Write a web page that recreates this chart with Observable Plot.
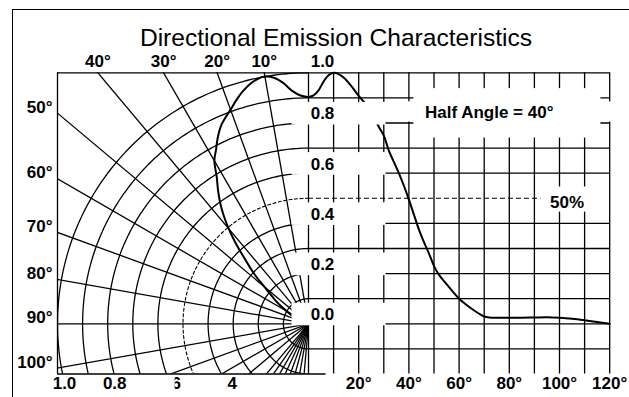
<!DOCTYPE html>
<html>
<head>
<meta charset="utf-8">
<script src="https://cdn.jsdelivr.net/npm/d3@7"></script>
<script src="https://cdn.jsdelivr.net/npm/@observablehq/plot@0.6"></script>
<style>
html, body { margin: 0; padding: 0; background: #fff; }
#wrap { position: relative; width: 629px; height: 397px; overflow: hidden; }
#border { position: absolute; left: 12px; top: 8.5px; right: -6px; bottom: -6px;
  border-left: 1.6px solid #000; border-top: 1.6px solid #000; pointer-events: none; }
svg { display: block; }
</style>
</head>
<body>
<div id="wrap"><div id="border"></div></div>
<script>
// ---------- data ----------
const title = "Directional Emission Characteristics";
// emission angle (deg) and relative intensity
const angleDeg  = [0, 2, 4, 6, 8, 10, 12, 14, 16, 18, 20, 22, 24, 26, 28, 30, 32, 34, 36, 38, 40,
                   42, 44, 46, 48, 50, 52, 55, 58, 60, 63, 66, 68, 70, 72, 75, 80, 85, 90, 95, 100,
                   105, 110, 115, 120];
const intensity = [0.903, 0.91, 0.93, 0.965, 0.99, 1.0, 0.995, 0.981, 0.96, 0.935, 0.908, 0.885,
                   0.86, 0.825, 0.785, 0.75, 0.69, 0.645, 0.60, 0.55, 0.495, 0.435, 0.375, 0.325,
                   0.28, 0.23, 0.195, 0.158, 0.122, 0.10, 0.075, 0.053, 0.04, 0.029, 0.025, 0.024,
                   0.024, 0.024, 0.025, 0.026, 0.024, 0.02, 0.014, 0.007, 0.0];
const circleRadii   = [0.1, 0.2, 0.3, 0.4, 0.6, 0.7, 0.8, 0.9, 1.0];
const dashedRadius  = 0.5;
const radialAngles  = [10, 20, 30, 40, 50, 60, 70, 80, 90, 100, 110, 120, 130, 140,
                       145, 150, 155, 160, 165, 170, 175];
const gridDegrees   = [0, 10, 20, 30, 40, 50, 60, 70, 80, 90, 100, 110, 120];
const gridLevels    = [-0.1, 0.0, 0.1, 0.2, 0.3, 0.4, 0.6, 0.7, 0.8, 0.9];
const halfLevel     = 0.5;
const topAngleLabels  = [40, 30, 20, 10];
const leftAngleLabels = [50, 60, 70, 80, 90, 100];
const levelLabels     = [1.0, 0.8, 0.6, 0.4, 0.2, 0.0];
const radiusLabels    = [1.0, 0.8, 0.6, 0.4];
const degreeLabels    = [20, 40, 60, 80, 100, 120];
const halfAngleText   = "Half Angle = 40°";
const halfText        = "50%";

// ---------- layout ----------
const PX = 251;                 // pixels per unit (0.1 intensity == 10 degrees)
const px = p => p / PX;
const rad = d => d * Math.PI / 180;
const xMin = -1, xMax = 1.2, yMin = -0.2, yMax = 1.0;
const mL = 57, mT = 72.3;
const W = 629, H = 397;
const mR = W - mL - (xMax - xMin) * PX;
const mB = H - mT - (yMax - yMin) * PX;

const font = "'Liberation Sans', Arial, Helvetica, sans-serif";
const lw = 1.3;

// polar circles
const circlePts = [];
for (const r of circleRadii.concat([dashedRadius])) {
  for (let a = 0; a <= 180; a += 1) {
    circlePts.push({r, x: -r * Math.sin(rad(a)), y: r * Math.cos(rad(a))});
  }
}
const solidCircles = circlePts.filter(d => d.r !== dashedRadius);
const dashedCircle = circlePts.filter(d => d.r === dashedRadius);

// curves
const rectCurve = angleDeg.map((a, i) => ({x: a / 100, y: intensity[i]}));
const polarCurve = angleDeg.map((a, i) => ({a, x: -intensity[i] * Math.sin(rad(a)), y: intensity[i] * Math.cos(rad(a))}))
  .filter(d => d.a <= 90);

// white erasures (label panels of the original sheet)
const boxL = -px(16.5), boxR = px(77.5);
const whiteBoxes = [
  ...levelLabels.filter(v => v < 1).map(v => ({x1: boxL, x2: boxR, y1: v - px(2), y2: v + 0.1 - px(4.5)})),
  {x1: boxR, x2: xMax + px(2), y1: 0.8 + px(1), y2: 0.9 - px(4)},
  {x1: 0.42, x2: 1.165, y1: 0.74, y2: 0.937},
  {x1: 0.91, x2: 1.19, y1: 0.445, y2: 0.545}
];
// radius labels: offsets (px) of the scanned sheet; the inner two are partly erased
const labelShift = r => (r > 0.7 ? 7 : r > 0.5 ? 11.3 : 17);
const partialCovers = radiusLabels.filter(r => r < 0.7).map(r => {
  const c = -r + px(labelShift(r));
  return {x1: c - px(14), x2: c + (r > 0.5 ? px(6) : px(2)), y1: yMin - px(1.5), y2: yMin - px(24)};
});

const deg = d => `${d}°`;
const txt = {fontFamily: font, fontWeight: "bold", fontSize: 17, fill: "#000"};

const chart = Plot.plot({
  width: W, height: H,
  marginLeft: mL, marginRight: mR, marginTop: mT, marginBottom: mB,
  x: {domain: [xMin, xMax], axis: null},
  y: {domain: [yMin, yMax], axis: null},
  style: {fontFamily: font, background: "transparent", overflow: "visible"},
  marks: [
    // polar grid
    Plot.line(solidCircles, {x: "x", y: "y", z: "r", stroke: "#000", strokeWidth: lw, clip: true}),
    Plot.line(dashedCircle, {x: "x", y: "y", stroke: "#000", strokeWidth: 1.1, strokeDasharray: "3,2.5", clip: true}),
    Plot.link(radialAngles, {x1: 0, y1: 0, x2: d => -2 * Math.sin(rad(d)), y2: d => 2 * Math.cos(rad(d)),
      stroke: "#000", strokeWidth: lw, clip: true}),
    // rectangular grid
    Plot.ruleX(gridDegrees, {x: d => d / 100, y1: yMin, y2: yMax, stroke: "#000", strokeWidth: lw}),
    Plot.ruleY(gridLevels, {y: d => d, x1: 0, x2: xMax, stroke: "#000", strokeWidth: lw}),
    // frame pieces
    Plot.ruleY([yMax], {x1: xMin, x2: xMax, stroke: "#000", strokeWidth: lw}),
    Plot.ruleX([xMin], {y1: yMin, y2: yMax, stroke: "#000", strokeWidth: lw}),
    Plot.ruleY([yMin], {x1: xMin, x2: px(17.5), stroke: "#000", strokeWidth: lw}),
    // emission curve
    Plot.line(polarCurve, {x: "x", y: "y", curve: "catmull-rom", stroke: "#000", strokeWidth: 2}),
    Plot.line(rectCurve, {x: "x", y: "y", curve: "catmull-rom", stroke: "#000", strokeWidth: 2}),
    // erasures
    Plot.rect(whiteBoxes, {x1: "x1", x2: "x2", y1: "y1", y2: "y2", fill: "#fff"}),
    // 50% line
    Plot.ruleY([halfLevel], {x1: 0, x2: 0.926, stroke: "#000", strokeWidth: 1.1, strokeDasharray: "5,3"}),
    // labels
    Plot.text([title], {frameAnchor: "top", dx: 2.4, dy: -44, text: d => d, fontFamily: font, fontSize: 24.6, fill: "#000"}),
    Plot.text(topAngleLabels, {x: d => -Math.tan(rad(d)), y: yMax, dy: -11, text: deg, ...txt}),
    Plot.text(leftAngleLabels, {x: xMin, y: d => 1 / Math.tan(rad(d)), dx: -5, dy: -6, textAnchor: "end", text: deg, ...txt}),
    Plot.text(levelLabels.filter(v => v === yMax), {x: 0, y: d => d, dx: 14, dy: -11, text: d => d.toFixed(1), ...txt}),
    Plot.text(levelLabels.filter(v => v < yMax), {x: 0, y: d => d, dx: 14, dy: -9, text: d => d.toFixed(1), ...txt}),
    Plot.text(radiusLabels, {x: d => -d + px(labelShift(d)), y: yMin, dy: 10, text: d => d.toFixed(1), ...txt}),
    Plot.rect(partialCovers, {x1: "x1", x2: "x2", y1: "y1", y2: "y2", fill: "#fff"}),
    Plot.text(degreeLabels, {x: d => d / 100, y: yMin, dy: 10, text: deg, ...txt}),
    Plot.text([halfAngleText], {x: 0.72, y: 0.84, text: d => d, ...txt}),
    Plot.text([halfText], {x: 1.03, y: 0.485, text: d => d, ...txt})
  ]
});
document.getElementById("wrap").prepend(chart);
</script>
</body>
</html>
